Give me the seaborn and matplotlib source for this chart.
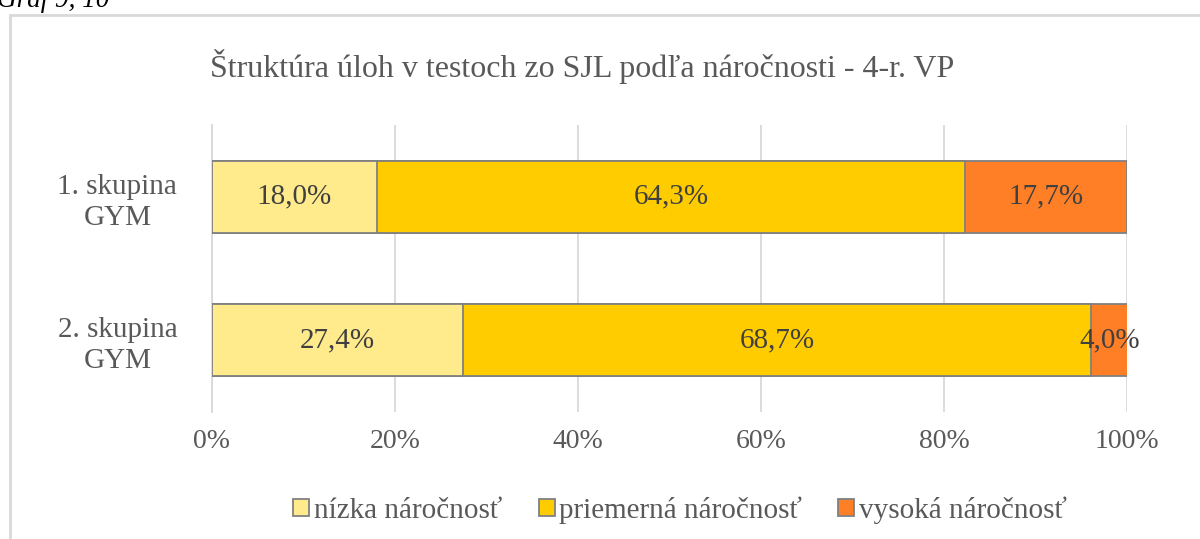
import matplotlib
matplotlib.use('Agg')
import matplotlib.pyplot as plt
import seaborn as sns
import numpy as np
import pandas as pd
from matplotlib.patches import Rectangle, Patch

sns.set_style('white')
plt.rcParams['font.family'] = ['Liberation Serif', 'DejaVu Serif']

# data
groups = ['1. skupina\nGYM', '2. skupina\nGYM']
levels = ['nízka náročnosť', 'priemerná náročnosť', 'vysoká náročnosť']
low = [18.0, 27.4]
mid = [64.3, 68.7]
high = [17.7, 4.0]
colors = ['#FFEB8C', '#FFCC00', '#FF7F27']

df = pd.DataFrame({'group': groups, levels[0]: low, levels[1]: mid, levels[2]: high})
cum = df[levels].cumsum(axis=1)

fig = plt.figure(figsize=(12, 5.39), dpi=100)
ax = fig.add_axes([212/1200, 1-412/539, 915/1200, 287/539])

# chart frame
fig.patches.append(Rectangle((10/1200, -0.05), 1.1, 1-15/539+0.05, transform=fig.transFigure,
                              fill=False, edgecolor='#d9d9d9', linewidth=2, zorder=0))
fig.text(-3/1200, 1-7/539, 'Graf 9, 10', fontsize=19.5, style='italic', color='black',
         ha='left', va='baseline')
fig.text(210/1200, 1-77/539, 'Štruktúra úloh v testoch zo SJL podľa náročnosti - 4-r. VP',
         fontsize=23, color='#595959', ha='left', va='baseline')

# stacked bars drawn as overlapping cumulative bars
for i in range(len(levels)-1, -1, -1):
    sns.barplot(x=cum[levels[i]], y=df['group'], orient='h', color=colors[i], saturation=1,
                edgecolor='#808080', linewidth=1.3, width=0.5, ax=ax, zorder=3)

for i, lev in enumerate(levels):
    for j in range(len(groups)):
        v = df[lev][j]
        cx = cum[lev][j] - v/2
        ax.text(cx, j, f'{v:.1f}%'.replace('.', ','), ha='center', va='center',
                fontsize=21, color='#404040', zorder=5)

ax.set_xlim(0, 100)
ax.set_ylim(1.5, -0.5)
ax.set_xticks(np.arange(0, 101, 20))
ax.set_xticklabels([f'{t}%' for t in range(0, 101, 20)])
ax.xaxis.grid(True, color='#d9d9d9', linewidth=1.3, zorder=0)
ax.set_axisbelow(True)
ax.set_xlabel('')
ax.set_ylabel('')
for s in ['top', 'right', 'bottom']:
    ax.spines[s].set_visible(False)
ax.spines['left'].set_color('#d9d9d9')
ax.spines['left'].set_linewidth(1.3)
ax.set_yticks([0, 1])
ax.set_yticklabels(groups, multialignment='center', linespacing=1.25)
ax.set_yticks([-0.5, 0.5, 1.5], minor=True)
ax.tick_params(axis='y', which='major', length=0, pad=25, labelsize=21, labelcolor='#595959')
ax.tick_params(axis='y', which='minor', length=7, width=1.3, color='#d9d9d9')
ax.tick_params(axis='x', length=0, pad=12, labelsize=20, labelcolor='#595959')

handles = [Patch(facecolor=c, edgecolor='#808080', linewidth=1.3) for c in colors]
fig.legend(handles, levels, loc='center', bbox_to_anchor=(680/1200, 1-510/539), ncol=3,
           frameon=False, fontsize=21, labelcolor='#595959', handlelength=0.55, handleheight=0.55,
           handletextpad=0.15, columnspacing=1.25)

fig.savefig('out.png', dpi=100)
